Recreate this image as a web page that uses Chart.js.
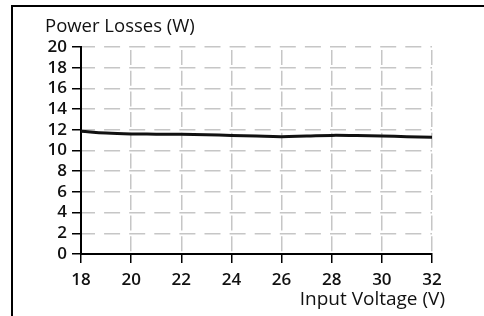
<!DOCTYPE html>
<html>
<head>
<meta charset="utf-8">
<script src="https://cdn.jsdelivr.net/npm/chart.js@4"></script>
<style>
  html, body { margin: 0; padding: 0; background: #fff; }
  #wrap { position: relative; width: 484px; height: 316px; overflow: hidden; }
  #frame { position: absolute; left: 11px; top: 5px; width: 480px; height: 320px;
           border-top: 2px solid #000; border-left: 2px solid #000; box-sizing: border-box; }
  #graph { position: absolute; left: 0; top: 0; }
</style>
</head>
<body>
<div id="wrap">
  <div id="frame"></div>
  <canvas id="graph" width="484" height="316"></canvas>
</div>
<script>
// values
var voltages = [18, 19, 20, 21, 22, 23, 24, 25, 26, 27, 28, 29, 30, 31, 32];
var losses = [11.85, 11.68, 11.6, 11.58, 11.56, 11.52, 11.46, 11.39, 11.34, 11.4, 11.46, 11.44, 11.4, 11.34, 11.27];

var yTitle = 'Power Losses (W)';
var xTitle = 'Input Voltage (V)';

var points = [];
voltages.forEach((v, i) => {
  points.push({ x: v, y: losses[i] });
});

var textColor = '#111';
var gridColor = '#c6c6c6';

// x axis title sits past the right end of the axis, so draw it by hand
var xTitlePlugin = {
  id: 'xTitle',
  afterDraw: function(chart) {
    var c = chart.ctx;
    var area = chart.chartArea;
    c.save();
    c.font = '500 19px "Open Sans"';
    c.fillStyle = textColor;
    c.textAlign = 'right';
    c.textBaseline = 'alphabetic';
    c.fillText(xTitle, area.right + 13, area.bottom + 51);
    c.restore();
  }
};

var ctx = document.getElementById('graph').getContext('2d');
new Chart(ctx, {
  "type": "line",
  "data": {
    "datasets": [{
      "data": points,
      "borderColor": "#111",
      "borderWidth": 3,
      "fill": false,
      "tension": 0.4,
      "pointRadius": 0
    }]
  },
  "options": {
    "responsive": false,
    "animation": false,
    "layout": { "padding": { "left": 45, "right": 52, "top": 0, "bottom": 0 } },
    "plugins": {
      "legend": { "display": false },
      "tooltip": { "enabled": false },
      "title": {
        "display": true,
        "text": yTitle,
        "align": "start",
        "color": textColor,
        "font": { "family": "Open Sans", "size": 18.5, "weight": "500" },
        "padding": { "top": 16, "bottom": 8.8 }
      }
    },
    "scales": {
      "x": {
        "type": "linear",
        "min": 18,
        "max": 32,
        "afterFit": function(scale) { scale.height = 62; },
        "ticks": {
          "stepSize": 2,
          "autoSkip": false,
          "color": textColor,
          "padding": 7,
          "maxRotation": 0,
          "font": { "family": "Open Sans", "size": 17, "weight": "600" }
        },
        "grid": {
          "color": gridColor,
          "lineWidth": 1.5,
          "tickColor": "#000",
          "tickWidth": 1.5,
          "tickLength": 9
        },
        "border": { "color": "#000", "width": 2, "dash": [15, 5.7], "dashOffset": -3 }
      },
      "y": {
        "min": 0,
        "max": 20,
        "afterFit": function(scale) { scale.width = 36; },
        "ticks": {
          "stepSize": 2,
          "autoSkip": false,
          "color": textColor,
          "padding": 5,
          "font": { "family": "Open Sans", "size": 17, "weight": "600" }
        },
        "grid": {
          "color": gridColor,
          "lineWidth": 1.5,
          "tickColor": "#000",
          "tickWidth": 1.5,
          "tickLength": 9
        },
        "border": { "color": "#000", "width": 2, "dash": [16, 9.1], "dashOffset": 3 }
      }
    }
  },
  "plugins": [xTitlePlugin]
});
</script>
</body>
</html>
